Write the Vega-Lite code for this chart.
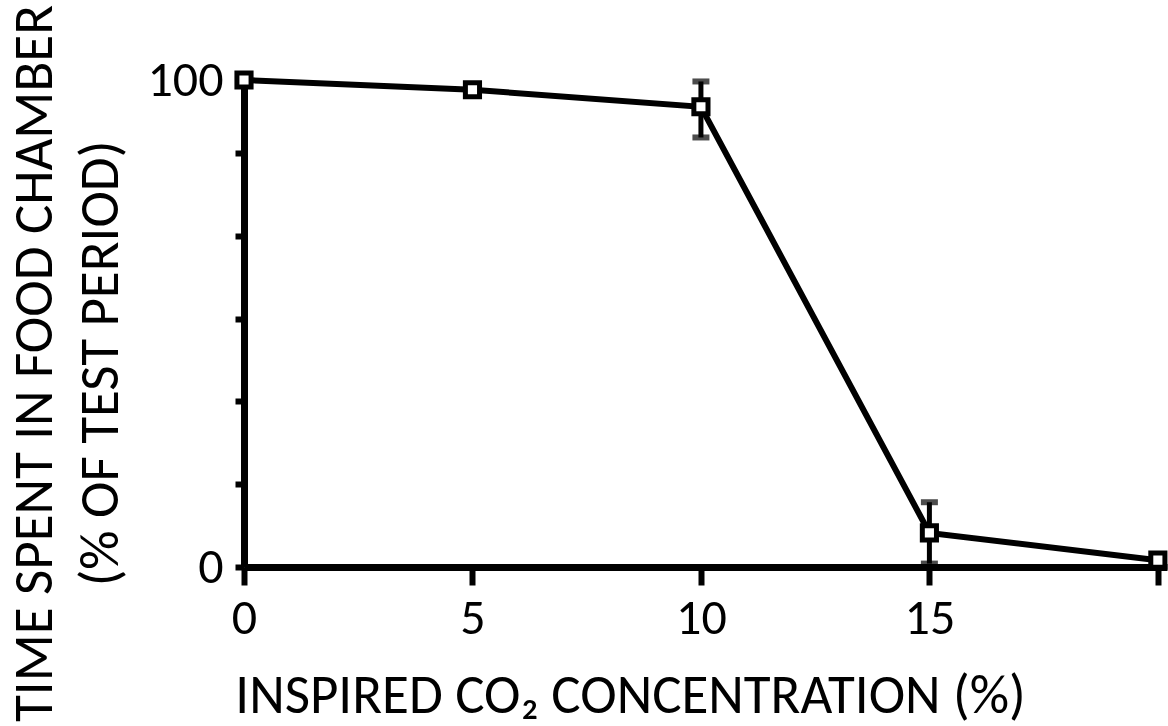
{
  "$schema": "https://vega.github.io/schema/vega-lite/v6.json",
  "width": 923,
  "height": 487,
  "autosize": {"type": "none"},
  "padding": {"left": 244, "top": 80, "right": 1, "bottom": 159},
  "background": "white",
  "config": {
    "view": {"stroke": null},
    "font": "Carlito, Lato",
    "axis": {
      "grid": false,
      "domainColor": "black",
      "domainWidth": 7,
      "tickColor": "black",
      "tickWidth": 6,
      "tickSize": 9,
      "labelFont": "Carlito, Lato",
      "labelFontSize": 50,
      "labelColor": "black",
      "labelFlush": false,
      "titleFont": "Carlito, Lato",
      "titleFontSize": 55,
      "titleFontWeight": "normal",
      "titleColor": "black"
    }
  },
  "data": {
    "values": [
      {"co2": 0, "time": 100, "lo": 100, "hi": 100},
      {"co2": 5, "time": 98, "lo": 98, "hi": 98},
      {"co2": 10, "time": 94.5, "lo": 88.2, "hi": 99.7},
      {"co2": 15, "time": 7, "lo": 0.7, "hi": 13.3},
      {"co2": 20, "time": 1.4, "lo": 1.4, "hi": 1.4}
    ]
  },
  "encoding": {
    "x": {
      "field": "co2",
      "type": "quantitative",
      "scale": {"domain": [0, 20.2], "nice": false, "zero": false},
      "axis": {
        "values": [0, 5, 10, 15, 20],
        "labelExpr": "datum.value == 20 ? '' : datum.label",
        "tickSize": 18,
        "labelPadding": 8,
        "title": "INSPIRED CO₂ CONCENTRATION (%)",
        "titleX": 386,
        "titleY": 145,
        "titleAlign": "center",
        "titleBaseline": "alphabetic"
      }
    }
  },
  "layer": [
    {
      "mark": {"type": "line", "color": "black", "strokeWidth": 6},
      "encoding": {
        "y": {
          "field": "time",
          "type": "quantitative",
          "scale": {"domain": [0, 100], "nice": false},
          "axis": {
            "values": [0, 17, 34, 51, 68, 85, 100],
            "labelExpr": "datum.value == 0 || datum.value == 100 ? datum.label : ''",
            "labelPadding": 12,
            "title": ["TIME SPENT IN FOOD CHAMBER", "(% OF TEST PERIOD)"],
            "titleAngle": -90,
            "titleX": -193,
            "titleY": 283,
            "titleAlign": "center",
            "titleBaseline": "alphabetic",
            "titleLineHeight": 66,
            "titleFontSize": 55
          }
        }
      }
    },
    {
      "mark": {"type": "rule", "color": "black", "strokeWidth": 5},
      "encoding": {
        "y": {"field": "lo", "type": "quantitative"},
        "y2": {"field": "hi"}
      }
    },
    {
      "mark": {"type": "tick", "color": "black", "orient": "horizontal", "thickness": 6, "size": 17},
      "encoding": {"y": {"field": "lo", "type": "quantitative"}}
    },
    {
      "mark": {"type": "tick", "color": "black", "orient": "horizontal", "thickness": 6, "size": 17},
      "encoding": {"y": {"field": "hi", "type": "quantitative"}}
    },
    {
      "mark": {"type": "point", "shape": "square", "filled": false, "fill": "white", "fillOpacity": 1, "stroke": "black", "strokeWidth": 5, "size": 200, "opacity": 1},
      "encoding": {"y": {"field": "time", "type": "quantitative"}}
    }
  ]
}
